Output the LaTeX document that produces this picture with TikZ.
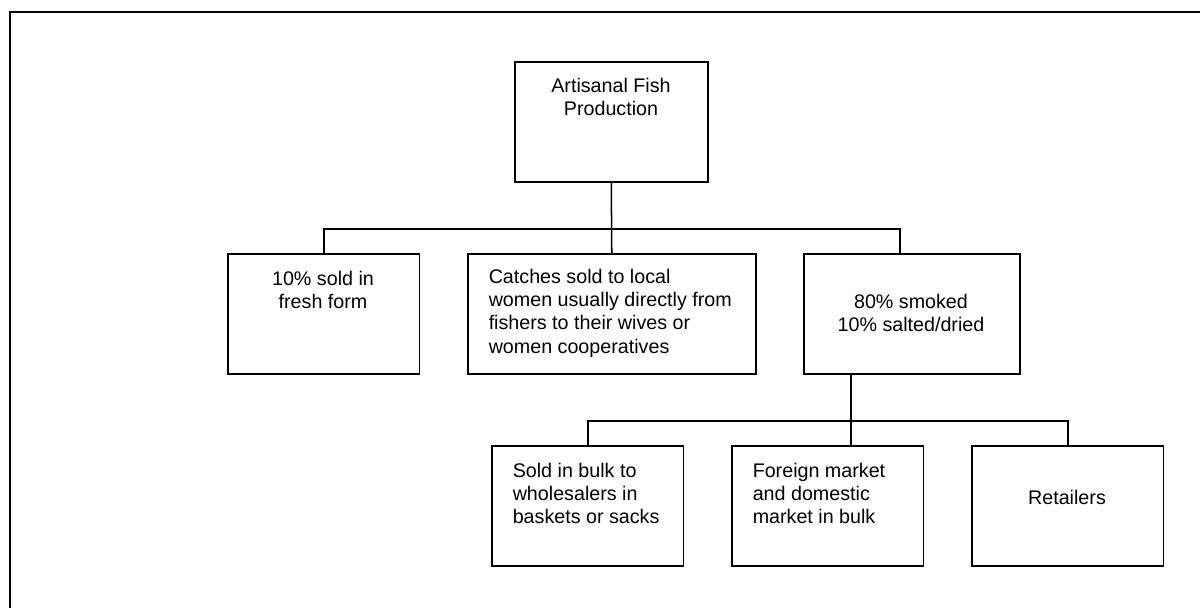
\documentclass[tikz,border=0pt]{standalone}
\usepackage{fontspec}
\setmainfont{Liberation Sans}
\usepackage{tikz}
\tikzset{
    every node/.style={inner sep=0pt, font=\fontsize{13}{15.5}\selectfont}
}
\tikzset{
    box/.style={draw, line width=1pt, anchor=north west, minimum height=79.2pt}
}
\tikzset{
    txt/.style={align=center, anchor=north},
    ltxt/.style={align=left, anchor=north west}
}

\begin{document}
\begin{tikzpicture}[x=0.66pt, y=-0.66pt, line width=1pt]
  \useasboundingbox (0,0) rectangle (1200,608);
  \draw[line width=1.7pt] (10,608) -- (10,12) -- (1200,12);

  \node (1) [box, minimum width=127.4pt] at (514,61) {};
  \node (2) [box, minimum width=126.7pt] at (227,253) {};
  \node (3) [box, minimum width=190.1pt] at (467,253) {};
  \node (4) [box, minimum width=142.6pt] at (803,253) {};
  \node (5) [box, minimum width=126.7pt] at (491,445) {};
  \node (6) [box, minimum width=126.7pt] at (731,445) {};
  \node (7) [box, minimum width=126.7pt] at (971,445) {};

  \node (1t) [txt] at (611,77) {Artisanal Fish\\Production};
  \node (2t) [txt] at (323,270) {10\% sold in\\fresh form};
  \node (3t) [ltxt] at (488,268) {Catches sold to local\\women usually directly from\\fishers to their wives or\\women cooperatives};
  \node (4t) [txt] at (911,293) {80\% smoked\\10\% salted/dried};
  \node (5t) [ltxt] at (512,462) {Sold in bulk to\\wholesalers in\\baskets or sacks};
  \node (6t) [ltxt] at (752,462) {Foreign market\\and domestic\\market in bulk};
  \node (7t) [txt] at (1067,489) {Retailers};

  \coordinate (b1) at (611,229);
  \coordinate (b2) at (851,421);
  \draw (1.south) -- (3.north);
  \draw (2.north) |- (b1) -| ([xshift=-7.9pt]4.north);
  \draw (b2 |- 4.south) -- (b2 |- 6.north);
  \draw (5.north) |- (b2) -| (7.north);
\end{tikzpicture}
\end{document}
